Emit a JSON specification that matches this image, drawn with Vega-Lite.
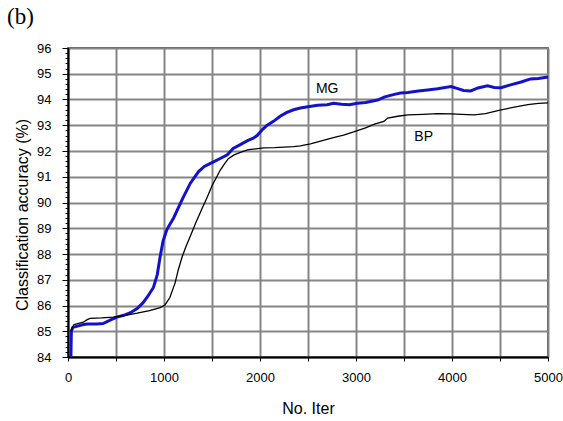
{
  "$schema": "https://vega.github.io/schema/vega-lite/v6.json",
  "width": 480,
  "height": 309,
  "autosize": {"type": "none"},
  "padding": {"left": 68, "top": 48, "right": 15, "bottom": 64},
  "background": "white",
  "title": {"text": "(b)", "anchor": "start", "frame": "group", "dx": -61, "offset": 13, "font": "Liberation Serif", "fontSize": 23, "fontWeight": "normal", "color": "black"},
  "config": {
    "view": {"stroke": "#222", "strokeWidth": 1.5},
    "axis": {"labelFont": "Liberation Sans", "titleFont": "Liberation Sans", "labelFontSize": 13, "titleFontSize": 16, "titleFontWeight": "normal", "labelColor": "black", "titleColor": "black", "domainColor": "black", "domainWidth": 2, "tickColor": "black", "gridColor": "#858585", "gridWidth": 2}
  },
  "datasets": {
    "curves": [
      {"iter": 30, "acc": 84.0, "series": "MG"},
      {"iter": 35, "acc": 85.0, "series": "MG"},
      {"iter": 50, "acc": 85.15, "series": "MG"},
      {"iter": 100, "acc": 85.2, "series": "MG"},
      {"iter": 150, "acc": 85.25, "series": "MG"},
      {"iter": 200, "acc": 85.28, "series": "MG"},
      {"iter": 300, "acc": 85.28, "series": "MG"},
      {"iter": 365, "acc": 85.3, "series": "MG"},
      {"iter": 450, "acc": 85.45, "series": "MG"},
      {"iter": 510, "acc": 85.55, "series": "MG"},
      {"iter": 580, "acc": 85.62, "series": "MG"},
      {"iter": 650, "acc": 85.72, "series": "MG"},
      {"iter": 720, "acc": 85.88, "series": "MG"},
      {"iter": 780, "acc": 86.1, "series": "MG"},
      {"iter": 830, "acc": 86.35, "series": "MG"},
      {"iter": 890, "acc": 86.7, "series": "MG"},
      {"iter": 930, "acc": 87.2, "series": "MG"},
      {"iter": 960, "acc": 87.9, "series": "MG"},
      {"iter": 990, "acc": 88.5, "series": "MG"},
      {"iter": 1030, "acc": 88.95, "series": "MG"},
      {"iter": 1100, "acc": 89.4, "series": "MG"},
      {"iter": 1150, "acc": 89.8, "series": "MG"},
      {"iter": 1200, "acc": 90.2, "series": "MG"},
      {"iter": 1275, "acc": 90.75, "series": "MG"},
      {"iter": 1360, "acc": 91.2, "series": "MG"},
      {"iter": 1420, "acc": 91.4, "series": "MG"},
      {"iter": 1500, "acc": 91.55, "series": "MG"},
      {"iter": 1580, "acc": 91.7, "series": "MG"},
      {"iter": 1660, "acc": 91.85, "series": "MG"},
      {"iter": 1720, "acc": 92.1, "series": "MG"},
      {"iter": 1795, "acc": 92.25, "series": "MG"},
      {"iter": 1870, "acc": 92.4, "series": "MG"},
      {"iter": 1930, "acc": 92.5, "series": "MG"},
      {"iter": 1970, "acc": 92.6, "series": "MG"},
      {"iter": 2030, "acc": 92.85, "series": "MG"},
      {"iter": 2075, "acc": 93.0, "series": "MG"},
      {"iter": 2140, "acc": 93.15, "series": "MG"},
      {"iter": 2210, "acc": 93.35, "series": "MG"},
      {"iter": 2280, "acc": 93.5, "series": "MG"},
      {"iter": 2350, "acc": 93.6, "series": "MG"},
      {"iter": 2420, "acc": 93.67, "series": "MG"},
      {"iter": 2500, "acc": 93.72, "series": "MG"},
      {"iter": 2600, "acc": 93.78, "series": "MG"},
      {"iter": 2700, "acc": 93.8, "series": "MG"},
      {"iter": 2765, "acc": 93.85, "series": "MG"},
      {"iter": 2850, "acc": 93.82, "series": "MG"},
      {"iter": 2930, "acc": 93.8, "series": "MG"},
      {"iter": 3015, "acc": 93.85, "series": "MG"},
      {"iter": 3100, "acc": 93.88, "series": "MG"},
      {"iter": 3225, "acc": 93.98, "series": "MG"},
      {"iter": 3300, "acc": 94.1, "series": "MG"},
      {"iter": 3400, "acc": 94.2, "series": "MG"},
      {"iter": 3465, "acc": 94.25, "series": "MG"},
      {"iter": 3540, "acc": 94.27, "series": "MG"},
      {"iter": 3650, "acc": 94.33, "series": "MG"},
      {"iter": 3745, "acc": 94.37, "series": "MG"},
      {"iter": 3850, "acc": 94.42, "series": "MG"},
      {"iter": 3990, "acc": 94.5, "series": "MG"},
      {"iter": 4060, "acc": 94.42, "series": "MG"},
      {"iter": 4120, "acc": 94.35, "series": "MG"},
      {"iter": 4195, "acc": 94.33, "series": "MG"},
      {"iter": 4270, "acc": 94.45, "series": "MG"},
      {"iter": 4370, "acc": 94.53, "series": "MG"},
      {"iter": 4440, "acc": 94.47, "series": "MG"},
      {"iter": 4510, "acc": 94.46, "series": "MG"},
      {"iter": 4600, "acc": 94.56, "series": "MG"},
      {"iter": 4720, "acc": 94.68, "series": "MG"},
      {"iter": 4820, "acc": 94.8, "series": "MG"},
      {"iter": 4900, "acc": 94.82, "series": "MG"},
      {"iter": 5000, "acc": 94.87, "series": "MG"},
      {"iter": 30, "acc": 85.0, "series": "BP"},
      {"iter": 40, "acc": 85.1, "series": "BP"},
      {"iter": 60, "acc": 85.25, "series": "BP"},
      {"iter": 100, "acc": 85.3, "series": "BP"},
      {"iter": 160, "acc": 85.35, "series": "BP"},
      {"iter": 200, "acc": 85.45, "series": "BP"},
      {"iter": 230, "acc": 85.5, "series": "BP"},
      {"iter": 350, "acc": 85.52, "series": "BP"},
      {"iter": 470, "acc": 85.55, "series": "BP"},
      {"iter": 600, "acc": 85.62, "series": "BP"},
      {"iter": 720, "acc": 85.7, "series": "BP"},
      {"iter": 850, "acc": 85.8, "series": "BP"},
      {"iter": 960, "acc": 85.92, "series": "BP"},
      {"iter": 1010, "acc": 86.02, "series": "BP"},
      {"iter": 1060, "acc": 86.3, "series": "BP"},
      {"iter": 1115, "acc": 86.87, "series": "BP"},
      {"iter": 1150, "acc": 87.4, "series": "BP"},
      {"iter": 1190, "acc": 87.9, "series": "BP"},
      {"iter": 1230, "acc": 88.3, "series": "BP"},
      {"iter": 1275, "acc": 88.7, "series": "BP"},
      {"iter": 1330, "acc": 89.2, "series": "BP"},
      {"iter": 1400, "acc": 89.8, "series": "BP"},
      {"iter": 1450, "acc": 90.2, "series": "BP"},
      {"iter": 1500, "acc": 90.65, "series": "BP"},
      {"iter": 1550, "acc": 91.0, "series": "BP"},
      {"iter": 1585, "acc": 91.25, "series": "BP"},
      {"iter": 1630, "acc": 91.5, "series": "BP"},
      {"iter": 1670, "acc": 91.7, "series": "BP"},
      {"iter": 1730, "acc": 91.85, "series": "BP"},
      {"iter": 1795, "acc": 91.95, "series": "BP"},
      {"iter": 1870, "acc": 92.04, "series": "BP"},
      {"iter": 1930, "acc": 92.07, "series": "BP"},
      {"iter": 2035, "acc": 92.12, "series": "BP"},
      {"iter": 2150, "acc": 92.13, "series": "BP"},
      {"iter": 2250, "acc": 92.15, "series": "BP"},
      {"iter": 2350, "acc": 92.17, "series": "BP"},
      {"iter": 2420, "acc": 92.2, "series": "BP"},
      {"iter": 2525, "acc": 92.28, "series": "BP"},
      {"iter": 2650, "acc": 92.4, "series": "BP"},
      {"iter": 2765, "acc": 92.52, "series": "BP"},
      {"iter": 2870, "acc": 92.62, "series": "BP"},
      {"iter": 2975, "acc": 92.74, "series": "BP"},
      {"iter": 3100, "acc": 92.9, "series": "BP"},
      {"iter": 3200, "acc": 93.05, "series": "BP"},
      {"iter": 3290, "acc": 93.15, "series": "BP"},
      {"iter": 3330, "acc": 93.28, "series": "BP"},
      {"iter": 3435, "acc": 93.35, "series": "BP"},
      {"iter": 3540, "acc": 93.4, "series": "BP"},
      {"iter": 3700, "acc": 93.42, "series": "BP"},
      {"iter": 3850, "acc": 93.45, "series": "BP"},
      {"iter": 3990, "acc": 93.44, "series": "BP"},
      {"iter": 4100, "acc": 93.42, "series": "BP"},
      {"iter": 4230, "acc": 93.4, "series": "BP"},
      {"iter": 4350, "acc": 93.45, "series": "BP"},
      {"iter": 4510, "acc": 93.6, "series": "BP"},
      {"iter": 4650, "acc": 93.7, "series": "BP"},
      {"iter": 4790, "acc": 93.8, "series": "BP"},
      {"iter": 4900, "acc": 93.85, "series": "BP"},
      {"iter": 5000, "acc": 93.87, "series": "BP"}
    ],
    "labels": [
      {"iter": 2700, "acc": 94.4, "text": "MG"},
      {"iter": 3705, "acc": 92.55, "text": "BP"}
    ]
  },
  "layer": [
    {
      "data": {"name": "curves"},
      "mark": {"type": "line", "interpolate": "linear"},
      "encoding": {
        "x": {"field": "iter", "type": "quantitative", "scale": {"domain": [0, 5000], "nice": false},
          "axis": {"title": "No. Iter", "values": [0, 500, 1000, 1500, 2000, 2500, 3000, 3500, 4000, 4500, 5000], "tickCount": 50, "labelExpr": "datum.value % 1000 == 0 ? datum.label : ''", "format": "d", "tickSize": 4, "labelPadding": 10, "titleY": 56, "titleBaseline": "alphabetic", "labelFlush": false, "labelOverlap": false}},
        "y": {"field": "acc", "type": "quantitative", "scale": {"domain": [84, 96], "nice": false, "zero": false},
          "axis": {"title": "Classification accuracy (%)", "tickCount": 200, "values": [84, 84.2, 84.4, 84.6, 84.8, 85, 85.2, 85.4, 85.6, 85.8, 86, 86.2, 86.4, 86.6, 86.8, 87, 87.2, 87.4, 87.6, 87.8, 88, 88.2, 88.4, 88.6, 88.8, 89, 89.2, 89.4, 89.6, 89.8, 90, 90.2, 90.4, 90.6, 90.8, 91, 91.2, 91.4, 91.6, 91.8, 92, 92.2, 92.4, 92.6, 92.8, 93, 93.2, 93.4, 93.6, 93.8, 94, 94.2, 94.4, 94.6, 94.8, 95, 95.2, 95.4, 95.6, 95.8, 96],
            "labelExpr": "datum.value % 1 == 0 ? format(datum.value, 'd') : ''",
            "tickSize": {"condition": {"test": "datum.value % 1 == 0", "value": 6}, "value": 3},
            "gridOpacity": {"condition": {"test": "datum.value % 1 == 0", "value": 1}, "value": 0},
            "labelPadding": 11, "titleX": -40.5, "titleY": 166.5, "titleBaseline": "alphabetic", "labelFlush": false, "labelOverlap": false}},
        "color": {"field": "series", "type": "nominal", "scale": {"domain": ["MG", "BP"], "range": ["#1212cc", "black"]}, "legend": null},
        "strokeWidth": {"field": "series", "type": "nominal", "scale": {"domain": ["MG", "BP"], "range": [3, 1.3]}, "legend": null},
        "order": {"field": "iter", "type": "quantitative"}
      }
    },
    {
      "data": {"name": "labels"},
      "mark": {"type": "text", "font": "Liberation Sans", "fontSize": 14, "color": "black", "align": "center", "baseline": "middle"},
      "encoding": {
        "x": {"field": "iter", "type": "quantitative"},
        "y": {"field": "acc", "type": "quantitative"},
        "text": {"field": "text"}
      }
    }
  ]
}
